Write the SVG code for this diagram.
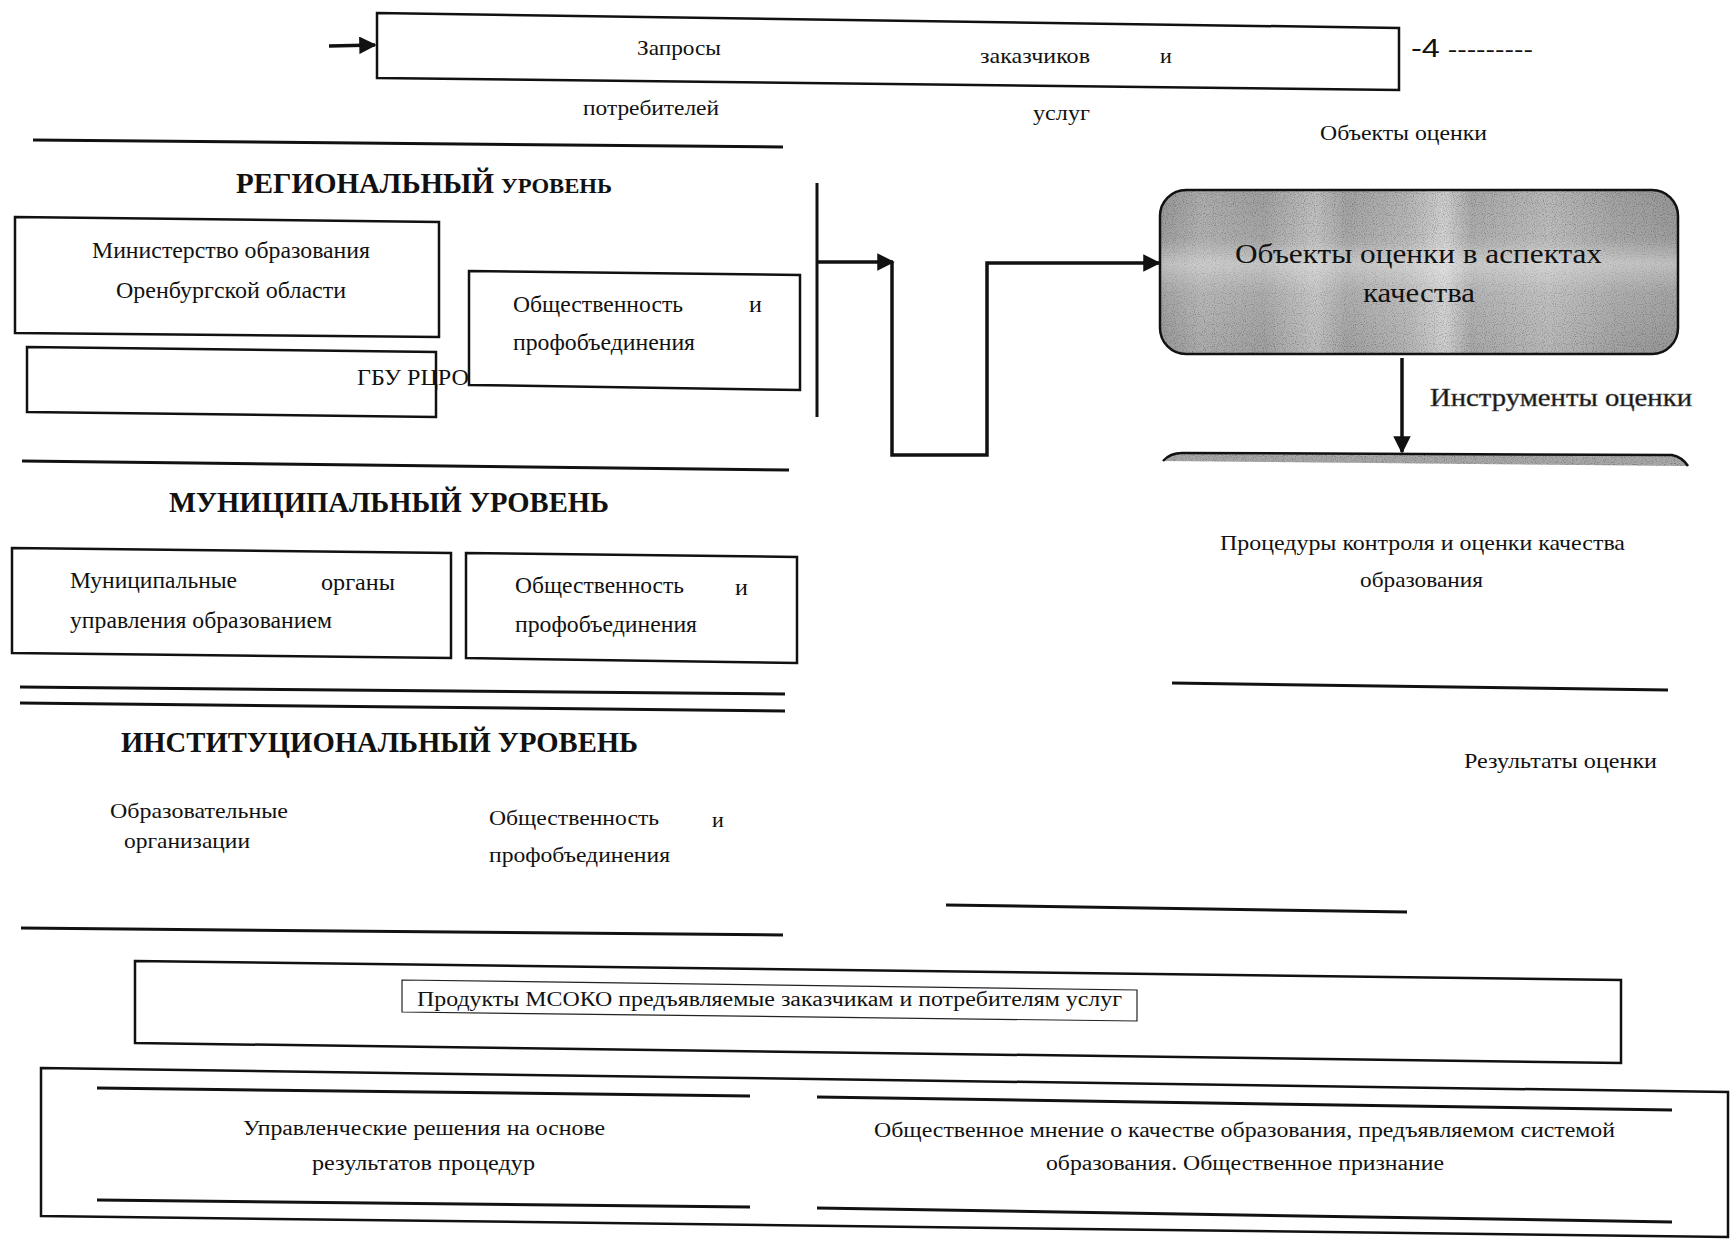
<svg xmlns="http://www.w3.org/2000/svg" width="1730" height="1241" viewBox="0 0 1730 1241">
<style>
.t{font-family:"Liberation Serif","Times New Roman",serif;fill:#111;}
.s22{font-size:22px;}
.s24{font-size:24px;}
.s20{font-size:20px;}
.h{font-family:"Liberation Serif","Times New Roman",serif;font-weight:bold;fill:#111;}
.box{fill:#fff;stroke:#111;stroke-width:2.5;}
.thin{fill:#fff;stroke:#222;stroke-width:1.2;}
.rule{stroke:#111;stroke-width:3;fill:none;}
.conn{stroke:#111;stroke-width:3.5;fill:none;}
</style>
<defs>
<marker id="ah" viewBox="0 0 10 10" refX="9" refY="5" markerWidth="5" markerHeight="5" orient="auto" markerUnits="strokeWidth">
<path d="M0,0 L10,5 L0,10 z" fill="#111"/>
</marker>
<linearGradient id="gH" x1="0" y1="0" x2="1" y2="0">
<stop offset="0" stop-color="#969696"/>
<stop offset="0.08" stop-color="#acacac"/>
<stop offset="0.2" stop-color="#a0a0a0"/>
<stop offset="0.3" stop-color="#bebebe"/>
<stop offset="0.36" stop-color="#a2a2a2"/>
<stop offset="0.48" stop-color="#b4b4b4"/>
<stop offset="0.55" stop-color="#cecece"/>
<stop offset="0.6" stop-color="#a8a8a8"/>
<stop offset="0.75" stop-color="#b8b8b8"/>
<stop offset="0.88" stop-color="#a2a2a2"/>
<stop offset="1" stop-color="#969696"/>
</linearGradient>
<linearGradient id="gV" x1="0" y1="0" x2="0" y2="1">
<stop offset="0" stop-color="#fff" stop-opacity="0"/>
<stop offset="0.3" stop-color="#fff" stop-opacity="0.08"/>
<stop offset="0.45" stop-color="#fff" stop-opacity="0.4"/>
<stop offset="0.62" stop-color="#fff" stop-opacity="0.15"/>
<stop offset="1" stop-color="#fff" stop-opacity="0"/>
</linearGradient>
<filter id="grain" x="0" y="0" width="1" height="1">
<feTurbulence type="fractalNoise" baseFrequency="0.9" numOctaves="1" seed="3" result="n"/>
<feColorMatrix in="n" type="matrix" values="0 0 0 0 0  0 0 0 0 0  0 0 0 0 0  0 0 0 -1.6 0.85" result="d"/>
<feComposite in="d" in2="SourceGraphic" operator="in" result="dd"/>
<feMerge><feMergeNode in="SourceGraphic"/><feMergeNode in="dd"/></feMerge>
</filter>
</defs>
<rect width="1730" height="1241" fill="#fff"/>

<!-- rules -->
<g id="rules">
<line class="rule" x1="33" y1="140" x2="783" y2="147"/>
<line class="rule" x1="22" y1="461" x2="789" y2="470"/>
<line class="rule" x1="20" y1="687" x2="785" y2="694"/>
<line class="rule" x1="20" y1="703" x2="785" y2="711"/>
<line class="rule" x1="21" y1="928" x2="783" y2="935"/>
<line class="rule" x1="1172" y1="683" x2="1668" y2="690"/>
<line class="rule" x1="946" y1="905" x2="1407" y2="912" stroke-width="4"/>
<line class="rule" x1="817" y1="183" x2="817" y2="417" stroke-width="2.5"/>
</g>

<!-- top request box -->
<g id="requests">
<polygon class="box" points="377,13 1399,28 1399,90 377,78"/>
<text class="t s22" x="637" y="55" textLength="84" lengthAdjust="spacingAndGlyphs">Запросы</text>
<text class="t s22" x="980" y="63" textLength="110" lengthAdjust="spacingAndGlyphs">заказчиков</text>
<text class="t s22" x="1160" y="63">и</text>
<text x="1411" y="57" font-family="'Liberation Sans',Arial,sans-serif" font-size="22" fill="#111" textLength="122" lengthAdjust="spacingAndGlyphs"><tspan font-size="25">-4</tspan> ---------</text>
<text class="t s22" x="583" y="115" textLength="136" lengthAdjust="spacingAndGlyphs">потребителей</text>
<text class="t s22" x="1033" y="120" textLength="57" lengthAdjust="spacingAndGlyphs">услуг</text>
<text class="t s22" x="1320" y="140" textLength="167" lengthAdjust="spacingAndGlyphs">Объекты оценки</text>
</g>

<!-- regional level -->
<g id="regional-title">
<text class="h" x="236" y="193" font-size="30" textLength="258" lengthAdjust="spacingAndGlyphs">РЕГИОНАЛЬНЫЙ</text>
<text class="h" x="501" y="193" font-size="21" textLength="111" lengthAdjust="spacingAndGlyphs">УРОВЕНЬ</text>
</g>
<g id="ministry">
<polygon class="box" points="15,217 439,222 439,337 15,333"/>
<text class="t s24" x="92" y="258" textLength="278" lengthAdjust="spacingAndGlyphs">Министерство образования</text>
<text class="t s24" x="116" y="298" textLength="230" lengthAdjust="spacingAndGlyphs">Оренбургской области</text>
</g>
<g id="gbu">
<polygon class="box" points="27,347 436,352 436,417 27,412"/>
<text class="t s24" x="357" y="385" textLength="112" lengthAdjust="spacingAndGlyphs">ГБУ РЦРО</text>
</g>
<g id="public-regional">
<polygon class="box" points="469,271 800,275 800,390 469,385"/>
<text class="t s24" x="513" y="312" textLength="170" lengthAdjust="spacingAndGlyphs">Общественность</text>
<text class="t s24" x="749" y="312">и</text>
<text class="t s24" x="513" y="350" textLength="182" lengthAdjust="spacingAndGlyphs">профобъединения</text>
</g>

<!-- municipal level -->
<g id="municipal-title">
<text class="h" x="169" y="512" font-size="30" textLength="440" lengthAdjust="spacingAndGlyphs">МУНИЦИПАЛЬНЫЙ УРОВЕНЬ</text>
</g>
<g id="municipal-bodies">
<polygon class="box" points="12,548 451,553 451,658 12,653"/>
<text class="t s24" x="70" y="588" textLength="167" lengthAdjust="spacingAndGlyphs">Муниципальные</text>
<text class="t s24" x="321" y="590" textLength="74" lengthAdjust="spacingAndGlyphs">органы</text>
<text class="t s24" x="70" y="628" textLength="262" lengthAdjust="spacingAndGlyphs">управления образованием</text>
</g>
<g id="public-municipal">
<polygon class="box" points="466,553 797,557 797,663 466,658"/>
<text class="t s24" x="515" y="593" textLength="169" lengthAdjust="spacingAndGlyphs">Общественность</text>
<text class="t s24" x="735" y="595">и</text>
<text class="t s24" x="515" y="632" textLength="182" lengthAdjust="spacingAndGlyphs">профобъединения</text>
</g>

<!-- institutional level -->
<g id="institutional-title">
<text class="h" x="121" y="752" font-size="30" textLength="517" lengthAdjust="spacingAndGlyphs">ИНСТИТУЦИОНАЛЬНЫЙ УРОВЕНЬ</text>
</g>
<g id="edu-orgs">
<text class="t s22" x="110" y="818" textLength="178" lengthAdjust="spacingAndGlyphs">Образовательные</text>
<text class="t s22" x="124" y="848" textLength="126" lengthAdjust="spacingAndGlyphs">организации</text>
</g>
<g id="public-institutional">
<text class="t s22" x="489" y="825" textLength="170" lengthAdjust="spacingAndGlyphs">Общественность</text>
<text class="t s22" x="712" y="827">и</text>
<text class="t s22" x="489" y="862" textLength="181" lengthAdjust="spacingAndGlyphs">профобъединения</text>
</g>

<!-- right column -->
<g id="objects-quality">
<rect x="1160" y="190" width="518" height="164" rx="26" fill="url(#gH)" filter="url(#grain)"/>
<rect x="1160" y="190" width="518" height="164" rx="26" fill="url(#gV)"/>
<rect x="1160" y="190" width="518" height="164" rx="26" fill="none" stroke="#111" stroke-width="2.5"/>
<text class="t" font-size="28" x="1235" y="263" textLength="367" lengthAdjust="spacingAndGlyphs">Объекты оценки в аспектах</text>
<text class="t" font-size="28" x="1363" y="302" textLength="112" lengthAdjust="spacingAndGlyphs">качества</text>
</g>
<g id="instruments">
<path d="M1163,461 Q1170,453 1182,453 L1672,455 Q1682,457 1688,466 Z" fill="#a8a8a8" filter="url(#grain)"/>
<path d="M1163,461 Q1170,453 1182,453 L1672,455 Q1682,457 1688,466" fill="none" stroke="#111" stroke-width="2.5"/>
<text class="t" font-size="25" x="1430" y="406" textLength="262" lengthAdjust="spacingAndGlyphs" stroke="#555" stroke-width="0.5">Инструменты оценки</text>
</g>
<g id="procedures">
<text class="t s22" x="1220" y="550" textLength="405" lengthAdjust="spacingAndGlyphs">Процедуры контроля и оценки качества</text>
<text class="t s22" x="1360" y="587" textLength="123" lengthAdjust="spacingAndGlyphs">образования</text>
</g>
<g id="results">
<text class="t s22" x="1464" y="768" textLength="193" lengthAdjust="spacingAndGlyphs">Результаты оценки</text>
</g>

<!-- products -->
<g id="products">
<polygon class="box" points="135,961 1621,980 1621,1063 135,1043"/>
<polygon class="thin" points="402,980 1137,990 1137,1021 402,1012"/>
<text class="t" font-size="20" x="417" y="1006" textLength="705" lengthAdjust="spacingAndGlyphs">Продукты МСОКО предъявляемые заказчикам и потребителям услуг</text>
</g>

<!-- outcomes -->
<g id="outcomes">
<polygon class="box" points="41,1068 1728,1092 1728,1237 41,1216"/>
<line class="rule" x1="97" y1="1088" x2="750" y2="1096"/>
<line class="rule" x1="817" y1="1097" x2="1672" y2="1110"/>
<line class="rule" x1="97" y1="1200" x2="750" y2="1207"/>
<line class="rule" x1="817" y1="1208" x2="1672" y2="1222"/>
</g>
<g id="management-decisions">
<text class="t s20" x="243" y="1135" textLength="362" lengthAdjust="spacingAndGlyphs">Управленческие решения на основе</text>
<text class="t s20" x="312" y="1170" textLength="223" lengthAdjust="spacingAndGlyphs">результатов процедур</text>
</g>
<g id="public-opinion">
<text class="t s20" x="874" y="1137" textLength="741" lengthAdjust="spacingAndGlyphs">Общественное мнение о качестве образования, предъявляемом системой</text>
<text class="t s20" x="1046" y="1170" textLength="398" lengthAdjust="spacingAndGlyphs">образования. Общественное признание</text>
</g>

<!-- connectors -->
<g id="connectors">
<line class="conn" x1="329" y1="46" x2="375" y2="45" marker-end="url(#ah)"/>
<line class="conn" x1="817" y1="262" x2="893" y2="262" marker-end="url(#ah)"/>
<polyline class="conn" points="892,262 892,455 987,455 987,263 1159,263" marker-end="url(#ah)"/>
<line class="conn" x1="1402" y1="358" x2="1402" y2="452" marker-end="url(#ah)"/>
</g>
</svg>
